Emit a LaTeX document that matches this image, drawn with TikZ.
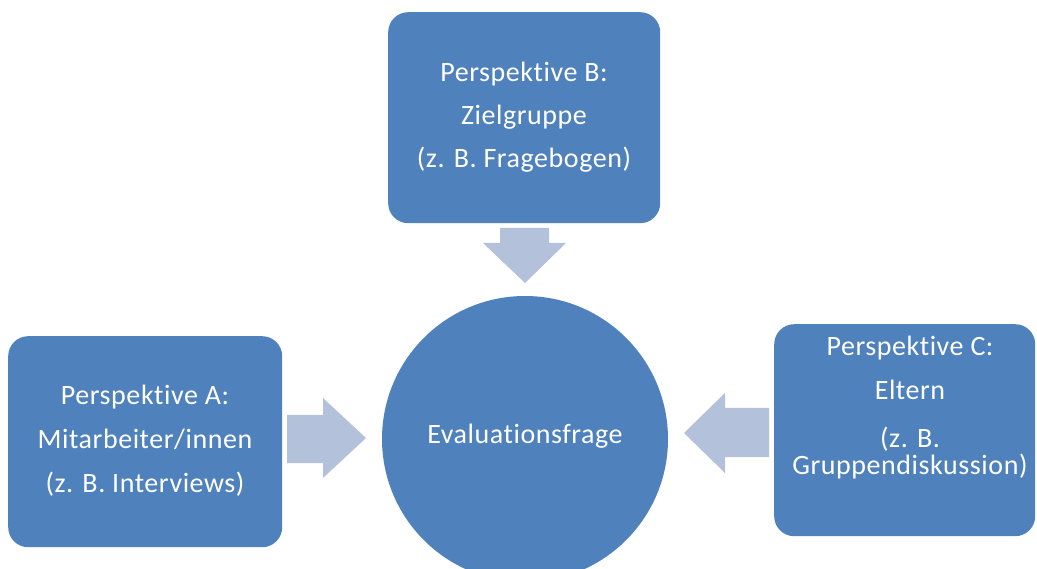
\documentclass[tikz,border=0pt]{standalone}
\usepackage{fontspec}
\setmainfont{Carlito}[LetterSpace=2,Ligatures=NoCommon]
\definecolor{boxblue}{HTML}{4F81BD}
\definecolor{arrowblue}{HTML}{B3C1DB}
\begin{document}
\begin{tikzpicture}[x=1pt,y=-1pt,
  panel/.style={fill=boxblue, draw=none, rounded corners=20pt, inner sep=0pt, anchor=north west},
  hub/.style={circle, fill=boxblue, draw=none, inner sep=0pt, minimum size=286pt},
  label/.style={anchor=base, text=white, inner sep=0pt, font=\fontsize{28}{32}\selectfont},
  blockarrow/.style={fill=arrowblue, draw=none}]
\useasboundingbox (0,0) rectangle (1037,569);
\clip (0,0) rectangle (1037,569);
% panels
\node[panel, minimum width=272pt, minimum height=211pt] (boxB) at (388,12) {};
\node[panel, minimum width=274pt, minimum height=211pt] (boxA) at (8,336) {};
\node[panel, minimum width=261pt, minimum height=212pt] (boxC) at (774,324) {};
\node[hub] (hub) at (525,439) {};
% block arrows
\path[blockarrow] (500,228) -- (549,228) -- (549,243) -- (566,243) -- (525,283) -- (483,243) -- (500,243) -- cycle;
\path[blockarrow] (287,415) -- (323,415) -- (323,398) -- (366,438) -- (323,478) -- (323,463) -- (287,463) -- cycle;
\path[blockarrow] (769,408) -- (725,408) -- (725,393) -- (684,433) -- (725,473) -- (725,457) -- (769,457) -- cycle;
% texts
\node[label] (b1) at (524,82) {Perspektive B:};
\node[label] (b2) at (524,125) {Zielgruppe};
\node[label] (b3) at (524,168) {(z. B. Fragebogen)};
\node[label] (a1) at (145,405) {Perspektive A:};
\node[label] (a2) at (145,449) {Mitarbeiter/innen};
\node[label] (a3) at (145,493) {(z. B. Interviews)};
\node[label] (c1) at (910,356) {Perspektive C:};
\node[label] (c2) at (910,400) {Eltern};
\node[label] (c3) at (910,447) {(z. B.};
\node[label] (c4) at (910,475) {Gruppendiskussion)};
\node[label] (h1) at (525,443) {Evaluationsfrage};
\end{tikzpicture}
\end{document}
